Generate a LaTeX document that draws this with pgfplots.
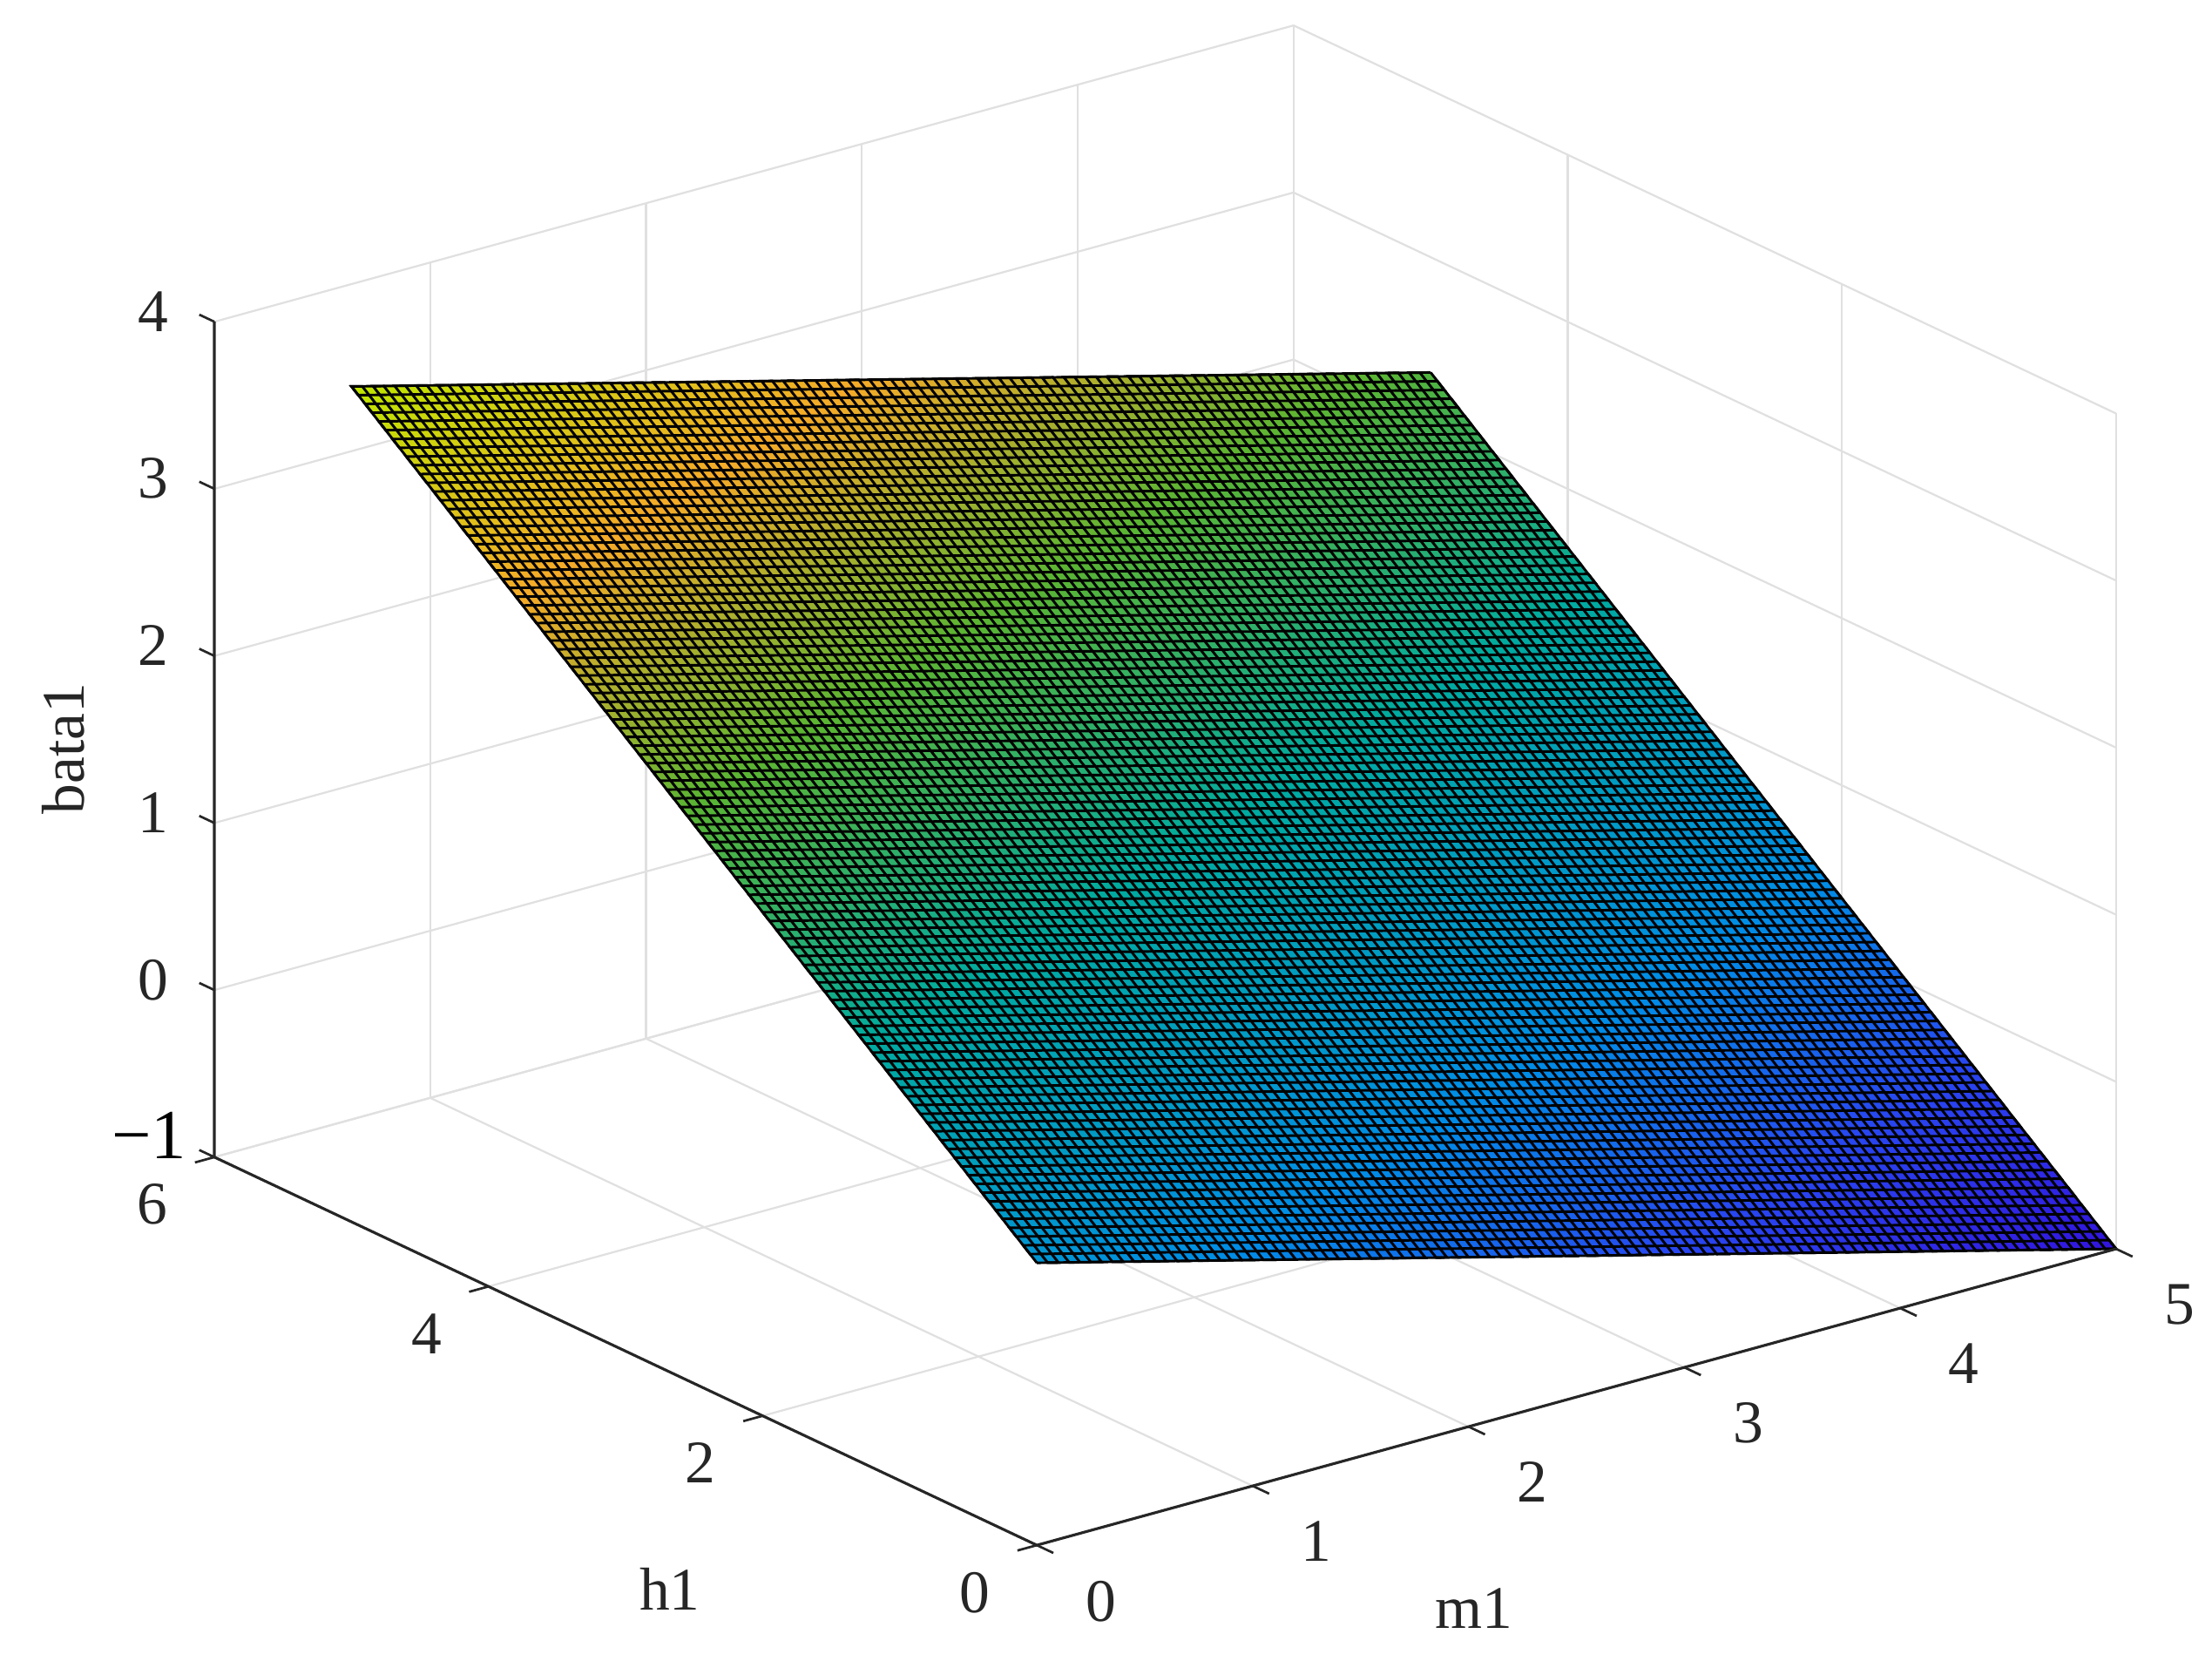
\documentclass[border=0pt]{standalone}
\usepackage{fontspec}
\setmainfont{Liberation Serif}
\usepackage{pgfplots}
\pgfplotsset{compat=1.18}
\definecolor{gridc}{RGB}{224,224,224}
\definecolor{axc}{RGB}{38,38,38}
\begin{document}
\begin{tikzpicture}
\useasboundingbox (0,0) rectangle (19.914cm,14.948cm);
\begin{axis}[
  at={(1.93cm,1.041cm)}, anchor=south west,
  x={(1.9431cm,0.5334cm)}, y={(-1.2341cm,0.5821cm)}, z={(0cm,1.5037cm)},
  xmin=0, xmax=5, ymin=0, ymax=6, zmin=-1, zmax=4,
  xtick={0,1,2,3,4,5}, ytick={0,2,4,6}, ztick={-1,0,1,2,3,4},
  zticklabels={{\raisebox{0.077cm}[0.7em][0pt]{\fontsize{18}{18}\selectfont\color{black}−1}\kern-0.165cm},0,1,2,3,4},
  grid=major, grid style={gridc, line width=0.5pt},
  axis line style={draw=none},
  major tick length=0pt,
  xtick pos=left, ytick pos=left, ztick pos=left,
  tick label style={font=\fontsize{15.5}{15.5}\selectfont, text=axc},
  xticklabel style={xshift=0.37cm, yshift=-0.18cm},
  yticklabel style={xshift=-0.32cm, yshift=-0.11cm},
  zticklabel style={xshift=-0.29cm, yshift=0.07cm},
  /pgf/number format/assume math mode=true,
  colormap={bata}{rgb255(0pt)=(50,20,220); rgb255(7pt)=(40,70,240); rgb255(14pt)=(0,140,230); rgb255(25pt)=(0,170,160); rgb255(34pt)=(90,180,50); rgb255(42pt)=(245,170,40); rgb255(46pt)=(215,200,20); rgb255(50pt)=(190,230,0)},
  point meta min=-1, point meta max=4,
  clip=false,
]
\addplot3[surf, shader=interp, point meta=z, mesh/rows=6, mesh/cols=6] coordinates {
(0,0,0.690)(1,0,0.352)(2,0,0.014)(3,0,-0.324)(4,0,-0.662)(5,0,-1.000)
(0,1,1.352)(1,1,1.014)(2,1,0.676)(3,1,0.338)(4,1,0.000)(5,1,-0.338)
(0,2,2.014)(1,2,1.676)(2,2,1.338)(3,2,1.000)(4,2,0.662)(5,2,0.324)
(0,3,2.676)(1,3,2.338)(2,3,2.000)(3,3,1.662)(4,3,1.324)(5,3,0.986)
(0,4,3.338)(1,4,3.000)(2,4,2.662)(3,4,2.324)(4,4,1.986)(5,4,1.648)
(0,5,4.000)(1,5,3.662)(2,5,3.324)(3,5,2.986)(4,5,2.648)(5,5,2.310)
};
% mesh lines along h1
\addplot3[black, line width=0.65pt, no marks] coordinates {
(0,0,.690)(0,5,4.000)(.05,5,3.983)(.05,0,.673)(.10,0,.656)(.10,5,3.966)(.15,5,3.949)(.15,0,.639)(.20,0,.622)(.20,5,3.932)
(.25,5,3.916)(.25,0,.606)(.30,0,.589)(.30,5,3.899)(.35,5,3.882)(.35,0,.572)(.40,0,.555)(.40,5,3.865)(.45,5,3.848)(.45,0,.538)
(.50,0,.521)(.50,5,3.831)(.55,5,3.814)(.55,0,.504)(.60,0,.487)(.60,5,3.797)(.65,5,3.780)(.65,0,.470)(.70,0,.453)(.70,5,3.763)
(.75,5,3.747)(.75,0,.437)(.80,0,.420)(.80,5,3.730)(.85,5,3.713)(.85,0,.403)(.90,0,.386)(.90,5,3.696)(.95,5,3.679)(.95,0,.369)
(1.00,0,.352)(1.00,5,3.662)(1.05,5,3.645)(1.05,0,.335)(1.10,0,.318)(1.10,5,3.628)(1.15,5,3.611)(1.15,0,.301)(1.20,0,.284)(1.20,5,3.594)
(1.25,5,3.578)(1.25,0,.268)(1.30,0,.251)(1.30,5,3.561)(1.35,5,3.544)(1.35,0,.234)(1.40,0,.217)(1.40,5,3.527)(1.45,5,3.510)(1.45,0,.200)
(1.50,0,.183)(1.50,5,3.493)(1.55,5,3.476)(1.55,0,.166)(1.60,0,.149)(1.60,5,3.459)(1.65,5,3.442)(1.65,0,.132)(1.70,0,.115)(1.70,5,3.425)
(1.75,5,3.409)(1.75,0,.099)(1.80,0,.082)(1.80,5,3.392)(1.85,5,3.375)(1.85,0,.065)(1.90,0,.048)(1.90,5,3.358)(1.95,5,3.341)(1.95,0,.031)
(2.00,0,.014)(2.00,5,3.324)(2.05,5,3.307)(2.05,0,-.003)(2.10,0,-.020)(2.10,5,3.290)(2.15,5,3.273)(2.15,0,-.037)(2.20,0,-.054)(2.20,5,3.256)
(2.25,5,3.240)(2.25,0,-.071)(2.30,0,-.087)(2.30,5,3.223)(2.35,5,3.206)(2.35,0,-.104)(2.40,0,-.121)(2.40,5,3.189)(2.45,5,3.172)(2.45,0,-.138)
(2.50,0,-.155)(2.50,5,3.155)(2.55,5,3.138)(2.55,0,-.172)(2.60,0,-.189)(2.60,5,3.121)(2.65,5,3.104)(2.65,0,-.206)(2.70,0,-.223)(2.70,5,3.087)
(2.75,5,3.071)(2.75,0,-.240)(2.80,0,-.256)(2.80,5,3.054)(2.85,5,3.037)(2.85,0,-.273)(2.90,0,-.290)(2.90,5,3.020)(2.95,5,3.003)(2.95,0,-.307)
(3.00,0,-.324)(3.00,5,2.986)(3.05,5,2.969)(3.05,0,-.341)(3.10,0,-.358)(3.10,5,2.952)(3.15,5,2.935)(3.15,0,-.375)(3.20,0,-.392)(3.20,5,2.918)
(3.25,5,2.902)(3.25,0,-.409)(3.30,0,-.425)(3.30,5,2.885)(3.35,5,2.868)(3.35,0,-.442)(3.40,0,-.459)(3.40,5,2.851)(3.45,5,2.834)(3.45,0,-.476)
(3.50,0,-.493)(3.50,5,2.817)(3.55,5,2.800)(3.55,0,-.510)(3.60,0,-.527)(3.60,5,2.783)(3.65,5,2.766)(3.65,0,-.544)(3.70,0,-.561)(3.70,5,2.749)
(3.75,5,2.733)(3.75,0,-.578)(3.80,0,-.594)(3.80,5,2.716)(3.85,5,2.699)(3.85,0,-.611)(3.90,0,-.628)(3.90,5,2.682)(3.95,5,2.665)(3.95,0,-.645)
(4.00,0,-.662)(4.00,5,2.648)(4.05,5,2.631)(4.05,0,-.679)(4.10,0,-.696)(4.10,5,2.614)(4.15,5,2.597)(4.15,0,-.713)(4.20,0,-.730)(4.20,5,2.580)
(4.25,5,2.564)(4.25,0,-.747)(4.30,0,-.763)(4.30,5,2.547)(4.35,5,2.530)(4.35,0,-.780)(4.40,0,-.797)(4.40,5,2.513)(4.45,5,2.496)(4.45,0,-.814)
(4.50,0,-.831)(4.50,5,2.479)(4.55,5,2.462)(4.55,0,-.848)(4.60,0,-.865)(4.60,5,2.445)(4.65,5,2.428)(4.65,0,-.882)(4.70,0,-.899)(4.70,5,2.411)
(4.75,5,2.395)(4.75,0,-.916)(4.80,0,-.932)(4.80,5,2.378)(4.85,5,2.361)(4.85,0,-.949)(4.90,0,-.966)(4.90,5,2.344)(4.95,5,2.327)(4.95,0,-.983)
(5.00,0,-1.000)(5.00,5,2.310)
};
% mesh lines along m1
\addplot3[black, line width=0.65pt, no marks] coordinates {
(0,0,.690)(5,0,-1.000)(5,.05,-.967)(0,.05,.723)(0,.10,.756)(5,.10,-.934)(5,.15,-.901)(0,.15,.789)(0,.20,.822)(5,.20,-.868)
(5,.25,-.835)(0,.25,.856)(0,.30,.889)(5,.30,-.801)(5,.35,-.768)(0,.35,.922)(0,.40,.955)(5,.40,-.735)(5,.45,-.702)(0,.45,.988)
(0,.50,1.021)(5,.50,-.669)(5,.55,-.636)(0,.55,1.054)(0,.60,1.087)(5,.60,-.603)(5,.65,-.570)(0,.65,1.120)(0,.70,1.153)(5,.70,-.537)
(5,.75,-.504)(0,.75,1.187)(0,.80,1.220)(5,.80,-.470)(5,.85,-.437)(0,.85,1.253)(0,.90,1.286)(5,.90,-.404)(5,.95,-.371)(0,.95,1.319)
(0,1.00,1.352)(5,1.00,-.338)(5,1.05,-.305)(0,1.05,1.385)(0,1.10,1.418)(5,1.10,-.272)(5,1.15,-.239)(0,1.15,1.451)(0,1.20,1.484)(5,1.20,-.206)
(5,1.25,-.173)(0,1.25,1.518)(0,1.30,1.551)(5,1.30,-.139)(5,1.35,-.106)(0,1.35,1.584)(0,1.40,1.617)(5,1.40,-.073)(5,1.45,-.040)(0,1.45,1.650)
(0,1.50,1.683)(5,1.50,-.007)(5,1.55,.026)(0,1.55,1.716)(0,1.60,1.749)(5,1.60,.059)(5,1.65,.092)(0,1.65,1.782)(0,1.70,1.815)(5,1.70,.125)
(5,1.75,.159)(0,1.75,1.849)(0,1.80,1.882)(5,1.80,.192)(5,1.85,.225)(0,1.85,1.915)(0,1.90,1.948)(5,1.90,.258)(5,1.95,.291)(0,1.95,1.981)
(0,2.00,2.014)(5,2.00,.324)(5,2.05,.357)(0,2.05,2.047)(0,2.10,2.080)(5,2.10,.390)(5,2.15,.423)(0,2.15,2.113)(0,2.20,2.146)(5,2.20,.456)
(5,2.25,.490)(0,2.25,2.180)(0,2.30,2.213)(5,2.30,.523)(5,2.35,.556)(0,2.35,2.246)(0,2.40,2.279)(5,2.40,.589)(5,2.45,.622)(0,2.45,2.312)
(0,2.50,2.345)(5,2.50,.655)(5,2.55,.688)(0,2.55,2.378)(0,2.60,2.411)(5,2.60,.721)(5,2.65,.754)(0,2.65,2.444)(0,2.70,2.477)(5,2.70,.787)
(5,2.75,.821)(0,2.75,2.511)(0,2.80,2.544)(5,2.80,.854)(5,2.85,.887)(0,2.85,2.577)(0,2.90,2.610)(5,2.90,.920)(5,2.95,.953)(0,2.95,2.643)
(0,3.00,2.676)(5,3.00,.986)(5,3.05,1.019)(0,3.05,2.709)(0,3.10,2.742)(5,3.10,1.052)(5,3.15,1.085)(0,3.15,2.775)(0,3.20,2.808)(5,3.20,1.118)
(5,3.25,1.152)(0,3.25,2.842)(0,3.30,2.875)(5,3.30,1.185)(5,3.35,1.218)(0,3.35,2.908)(0,3.40,2.941)(5,3.40,1.251)(5,3.45,1.284)(0,3.45,2.974)
(0,3.50,3.007)(5,3.50,1.317)(5,3.55,1.350)(0,3.55,3.040)(0,3.60,3.073)(5,3.60,1.383)(5,3.65,1.416)(0,3.65,3.106)(0,3.70,3.139)(5,3.70,1.449)
(5,3.75,1.483)(0,3.75,3.173)(0,3.80,3.206)(5,3.80,1.516)(5,3.85,1.549)(0,3.85,3.239)(0,3.90,3.272)(5,3.90,1.582)(5,3.95,1.615)(0,3.95,3.305)
(0,4.00,3.338)(5,4.00,1.648)(5,4.05,1.681)(0,4.05,3.371)(0,4.10,3.404)(5,4.10,1.714)(5,4.15,1.747)(0,4.15,3.437)(0,4.20,3.470)(5,4.20,1.780)
(5,4.25,1.814)(0,4.25,3.504)(0,4.30,3.537)(5,4.30,1.847)(5,4.35,1.880)(0,4.35,3.570)(0,4.40,3.603)(5,4.40,1.913)(5,4.45,1.946)(0,4.45,3.636)
(0,4.50,3.669)(5,4.50,1.979)(5,4.55,2.012)(0,4.55,3.702)(0,4.60,3.735)(5,4.60,2.045)(5,4.65,2.078)(0,4.65,3.768)(0,4.70,3.801)(5,4.70,2.111)
(5,4.75,2.145)(0,4.75,3.835)(0,4.80,3.868)(5,4.80,2.178)(5,4.85,2.211)(0,4.85,3.901)(0,4.90,3.934)(5,4.90,2.244)(5,4.95,2.277)(0,4.95,3.967)
(0,5.00,4.000)(5,5.00,2.310)
};
\addplot3[axc, line width=0.7pt, no marks] coordinates {(5,0,-1)(0,0,-1)(0,6,-1)(0,6,4)};
% tick marks
\draw[axc, line width=0.6pt]
  (axis cs:0,0,-1)--(axis cs:0,-0.12,-1) (axis cs:1,0,-1)--(axis cs:1,-0.12,-1) (axis cs:2,0,-1)--(axis cs:2,-0.12,-1)
  (axis cs:3,0,-1)--(axis cs:3,-0.12,-1) (axis cs:4,0,-1)--(axis cs:4,-0.12,-1) (axis cs:5,0,-1)--(axis cs:5,-0.12,-1)
  (axis cs:0,0,-1)--(axis cs:-0.09,0,-1) (axis cs:0,2,-1)--(axis cs:-0.09,2,-1) (axis cs:0,4,-1)--(axis cs:-0.09,4,-1) (axis cs:0,6,-1)--(axis cs:-0.09,6,-1)
  (axis cs:0,6,-1)--(axis cs:0,6.11,-1) (axis cs:0,6,0)--(axis cs:0,6.11,0) (axis cs:0,6,1)--(axis cs:0,6.11,1)
  (axis cs:0,6,2)--(axis cs:0,6.11,2) (axis cs:0,6,3)--(axis cs:0,6.11,3) (axis cs:0,6,4)--(axis cs:0,6.11,4);
\end{axis}
\node[font=\fontsize{15.5}{15.5}\selectfont, text=axc] at (13.27,0.47) {m1};
\node[font=\fontsize{15.5}{15.5}\selectfont, text=axc] at (6.03,0.65) {h1};
\node[font=\fontsize{15.5}{15.5}\selectfont, text=axc, rotate=90] at (0.57,8.21) {bata1};
\end{tikzpicture}
\end{document}
